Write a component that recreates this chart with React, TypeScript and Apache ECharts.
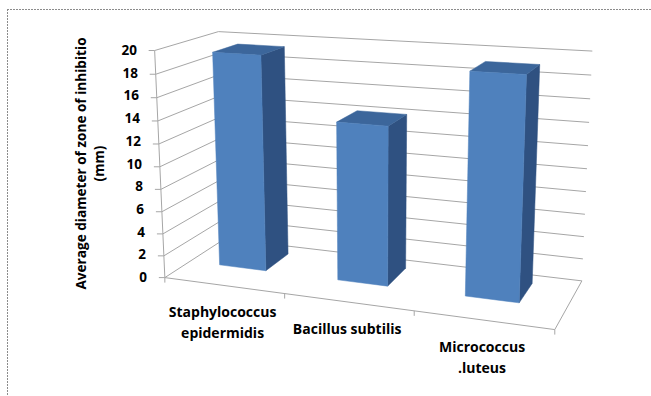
import React, { useEffect, useRef } from 'react';
import * as echarts from 'echarts';

const categories = ['Staphylococcus\nepidermidis', 'Bacillus subtilis', 'Micrococcus\n.luteus'];
const values = [19.3, 14.0, 19.0];
const yMin = 0;
const yMax = 20;
const yStep = 2;
const yTicks: number[] = [0, 2, 4, 6, 8, 10, 12, 14, 16, 18, 20];
const axisTitle = 'Average diameter of zone of inhibitio\n(mm)';

// Layout: perspective anchors [X(category units), Y(normalised), Z(depth), screenX, screenY]
const ANCHORS: number[][] = [
  [0, 0, 0, 165, 277],
  [0, 1, 0, 155, 50],
  [0, 0.1, 0, 164, 254],
  [0, 1, 1, 218, 32],
  [3, 1, 1, 592, 51],
  [3, 0.9, 1, 591, 75],
  [3, 0.7, 1, 590, 123],
  [3, 0, 1, 582, 280],
  [3, 0, 0, 555, 328],
  [1, 0, 0, 285, 297],
  [2, 0, 0, 413, 312],
];

function solveProjection(pts: number[][]): number[] {
  const n = 11;
  const M: number[][] = Array.from({ length: n }, () => new Array(n).fill(0));
  const r: number[] = new Array(n).fill(0);
  const add = (row: number[], rhs: number) => {
    for (let i = 0; i < n; i++) {
      r[i] += row[i] * rhs;
      for (let j = 0; j < n; j++) M[i][j] += row[i] * row[j];
    }
  };
  for (const [X, Y, Z, u, v] of pts) {
    add([X, Y, Z, 1, 0, 0, 0, 0, -u * X, -u * Y, -u * Z], u);
    add([0, 0, 0, 0, X, Y, Z, 1, -v * X, -v * Y, -v * Z], v);
  }
  for (let c = 0; c < n; c++) {
    let p = c;
    for (let i = c + 1; i < n; i++) if (Math.abs(M[i][c]) > Math.abs(M[p][c])) p = i;
    [M[c], M[p]] = [M[p], M[c]];
    [r[c], r[p]] = [r[p], r[c]];
    for (let i = 0; i < n; i++) {
      if (i === c) continue;
      const f = M[i][c] / M[c][c];
      for (let j = c; j < n; j++) M[i][j] -= f * M[c][j];
      r[i] -= f * r[c];
    }
  }
  return r.map((x, i) => x / M[i][i]);
}

const P = solveProjection(ANCHORS);
function proj(X: number, Y: number, Z: number): number[] {
  const w = P[8] * X + P[9] * Y + P[10] * Z + 1;
  return [
    (P[0] * X + P[1] * Y + P[2] * Z + P[3]) / w,
    (P[4] * X + P[5] * Y + P[6] * Z + P[7]) / w,
  ];
}

const NX = categories.length;
const BAR_X0 = 0.26;
const BAR_X1 = 0.66;
const BAR_Z0 = 0.4;
const BAR_Z1 = 0.82;
const GRID_COLOR = '#a6a6a6';
const FRONT = '#4f81bd';
const SIDE = '#2f5181';
const TOP = '#3c669b';
const FONT = '"Open Sans", Lato, sans-serif';

const line = (a: number[], b: number[], color = GRID_COLOR) => ({
  type: 'line',
  shape: { x1: a[0], y1: a[1], x2: b[0], y2: b[1] },
  style: { stroke: color, lineWidth: 1 },
  silent: true,
});

export default function App() {
  const ref = useRef<HTMLDivElement>(null);
  useEffect(() => {
    if (!ref.current) return;
    const chart = echarts.init(ref.current, undefined, { renderer: 'svg' });

    const rich: Record<string, any> = {};
    yTicks.forEach((v) => {
      rich['p' + v] = {
        padding: [0, (v / yMax) * 10, 0, 0],
        fontWeight: 'bold',
        fontSize: 13.5,
        fontFamily: FONT,
        color: '#000',
      };
    });

    const normY = (api: any, v: number) => {
      const p0 = api.coord([0, yMin])[1];
      const p1 = api.coord([0, yMax])[1];
      const pv = api.coord([0, v])[1];
      return (p0 - pv) / (p0 - p1);
    };

    const frameRender = (params: any, api: any) => {
      const children: any[] = [];
      yTicks.forEach((t) => {
        const yn = normY(api, t);
        const a = proj(0, yn, 0);
        const b = proj(0, yn, 1);
        const c = proj(NX, yn, 1);
        children.push(line(a, b));
        children.push(line(b, c));
        children.push(line([a[0] - 6, a[1]], a));
      });
      const f0 = proj(0, 0, 0);
      const f3 = proj(NX, 0, 0);
      const b3 = proj(NX, 0, 1);
      children.push(line(f0, proj(0, 1, 0)));
      children.push(line(f0, f3));
      children.push(line(f3, b3));
      for (let i = 0; i <= NX; i++) {
        const p = proj(i, 0, 0);
        children.push(line(p, [p[0], p[1] + 5]));
      }
      return { type: 'group', children };
    };

    const barRender = (params: any, api: any) => {
      const i = api.value(0);
      const yn = normY(api, api.value(1));
      const x0 = i + BAR_X0;
      const x1 = i + BAR_X1;
      const poly = (pts: number[][], fill: string) => ({
        type: 'polygon',
        shape: { points: pts },
        style: { fill, stroke: fill, lineWidth: 0.5 },
      });
      const front = [proj(x0, 0, BAR_Z0), proj(x1, 0, BAR_Z0), proj(x1, yn, BAR_Z0), proj(x0, yn, BAR_Z0)];
      const side = [proj(x1, 0, BAR_Z0), proj(x1, 0, BAR_Z1), proj(x1, yn, BAR_Z1), proj(x1, yn, BAR_Z0)];
      const top = [proj(x0, yn, BAR_Z0), proj(x1, yn, BAR_Z0), proj(x1, yn, BAR_Z1), proj(x0, yn, BAR_Z1)];
      const lp = proj(i + 0.5, 0, 0);
      return {
        type: 'group',
        children: [
          poly(side, SIDE),
          poly(top, TOP),
          poly(front, FRONT),
          {
            type: 'text',
            x: lp[0] - 1,
            y: lp[1] + 16,
            style: {
              text: categories[i],
              align: 'center',
              verticalAlign: 'top',
              fontSize: 14,
              fontWeight: 'bold',
              fontFamily: FONT,
              lineHeight: 21,
              fill: '#000',
            },
          },
        ],
      };
    };

    chart.setOption({
      animation: false,
      backgroundColor: '#fff',
      grid: { left: 165, top: 50, bottom: 396 - 277, right: 60 },
      xAxis: { type: 'value', min: 0, max: NX, show: false },
      yAxis: {
        type: 'value',
        min: yMin,
        max: yMax,
        interval: yStep,
        position: 'left',
        axisLine: { show: false },
        axisTick: { show: false },
        splitLine: { show: false },
        axisLabel: {
          margin: 18,
          formatter: (v: number) => `{p${v}|${v}}`,
          rich,
        },
        name: axisTitle,
        nameLocation: 'middle',
        nameRotate: 90,
        nameGap: 58,
        nameTextStyle: {
          fontWeight: 'bold',
          fontSize: 13.6,
          fontFamily: FONT,
          color: '#000',
          lineHeight: 18,
        },
      },
      graphic: [
        { type: 'line', shape: { x1: 7.5, y1: 9, x2: 7.5, y2: 396 }, style: { stroke: '#8c8c8c', lineWidth: 1, lineDash: [2, 1] } },
        { type: 'line', shape: { x1: 7, y1: 9.5, x2: 651, y2: 9.5 }, style: { stroke: '#8c8c8c', lineWidth: 1, lineDash: [2, 1] } },
      ],
      series: [
        {
          type: 'custom',
          coordinateSystem: 'cartesian2d',
          data: [[0, 0]],
          renderItem: frameRender,
          clip: false,
          silent: true,
          z: 1,
        },
        {
          type: 'custom',
          coordinateSystem: 'cartesian2d',
          data: values.map((v, i) => [i, v]),
          renderItem: barRender,
          clip: false,
          z: 2,
        },
      ],
    });
    return () => chart.dispose();
  }, []);
  return <div ref={ref} style={{ position: 'fixed', left: 0, top: 0, width: 651, height: 396 }} />;
}
